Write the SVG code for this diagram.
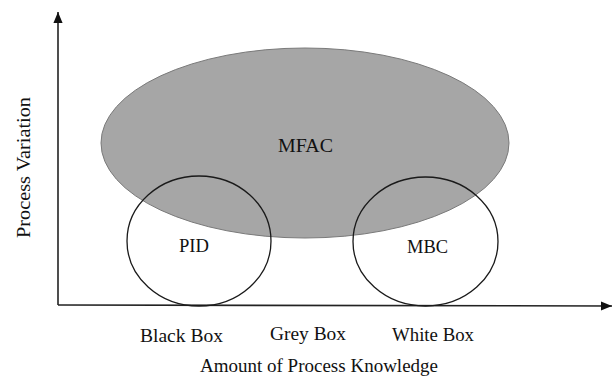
<svg xmlns="http://www.w3.org/2000/svg" width="613" height="378" viewBox="0 0 613 378">
<style>
text{font-family:"Liberation Serif","Times New Roman",serif;font-size:18px;fill:#111;}
.axis{stroke:#222;stroke-width:1.6;fill:none;}
.circ{fill:none;stroke:#1a1a1a;stroke-width:1.3;}
</style>
<defs>
<marker id="arr" viewBox="0 0 10 10" refX="10" refY="5" markerWidth="8" markerHeight="8" markerUnits="userSpaceOnUse" orient="auto">
<path d="M0,0 L10,5 L0,10 Z" fill="#111"/>
</marker>
<marker id="arrUp" viewBox="0 0 10 12" refX="12" refY="5" markerWidth="12" markerHeight="11" markerUnits="userSpaceOnUse" orient="auto">
<path d="M0,0 L12,5 L0,10 Z" fill="#111"/>
</marker>
</defs>
<rect width="613" height="378" fill="#fff"/>
<g id="connectors">
<line class="axis" x1="58" y1="305" x2="58" y2="12" marker-end="url(#arrUp)"/>
<line class="axis" x1="58" y1="305" x2="612" y2="306" marker-end="url(#arrUp)"/>
</g>
<g id="mfac">
<ellipse cx="305" cy="143" rx="204" ry="95" fill="#a6a6a6" stroke="#7a7a7a" stroke-width="1"/>
<text x="305.5" y="152" text-anchor="middle" textLength="55" lengthAdjust="spacingAndGlyphs">MFAC</text>
</g>
<g id="pid">
<ellipse class="circ" cx="199" cy="241" rx="72" ry="65"/>
<text x="194" y="252" text-anchor="middle" textLength="30" lengthAdjust="spacingAndGlyphs">PID</text>
</g>
<g id="mbc">
<ellipse class="circ" cx="425.5" cy="241.5" rx="72.5" ry="64.5"/>
<text x="427.5" y="253" text-anchor="middle" textLength="41" lengthAdjust="spacingAndGlyphs">MBC</text>
</g>
<g id="labels">
<text x="181.5" y="342" text-anchor="middle" textLength="83" lengthAdjust="spacingAndGlyphs">Black Box</text>
<text x="308" y="340" text-anchor="middle" textLength="76" lengthAdjust="spacingAndGlyphs">Grey Box</text>
<text x="433" y="341" text-anchor="middle" textLength="82" lengthAdjust="spacingAndGlyphs">White Box</text>
<text x="319" y="372" text-anchor="middle" textLength="238" lengthAdjust="spacingAndGlyphs">Amount of Process Knowledge</text>
<text transform="translate(30,167.5) rotate(-90)" x="0" y="0" text-anchor="middle" textLength="141" lengthAdjust="spacingAndGlyphs">Process Variation</text>
</g>
</svg>
